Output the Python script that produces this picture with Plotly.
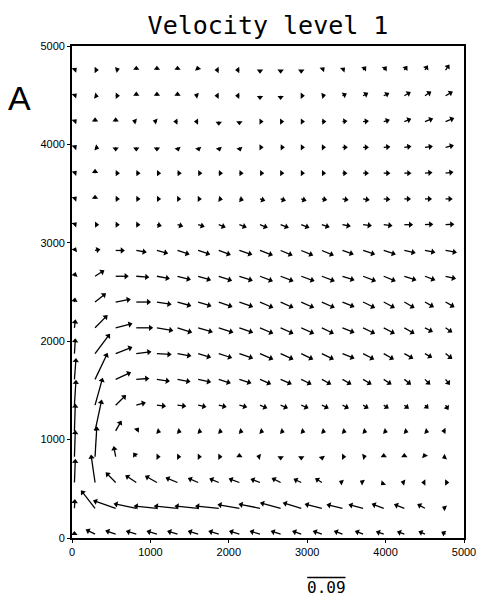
import math
import plotly.graph_objects as go

TITLE = "Velocity level 1"
PANEL_LABEL = "A"
REF_LABEL = "0.09"
REF_SPEED = 0.09          # m/s, reference arrow
REF_X = 3000              # start of reference arrow (x units)

X_TICKS = [0, 1000, 2000, 3000, 4000, 5000]
Y_TICKS = [0, 1000, 2000, 3000, 4000, 5000]

# grid point coordinates (arrow tails)
X_GRID = [31, 294, 557, 820, 1083, 1346, 1609, 1872, 2135, 2398,
          2661, 2924, 3187, 3450, 3713, 3976, 4239, 4502, 4765]
Y_GRID = [40, 302, 564, 826, 1088, 1350, 1612, 1874, 2136, 2398,
          2660, 2922, 3184, 3446, 3708, 3970, 4232, 4494, 4756]

# eastward velocity (cm/s), rows from bottom (first) to top (last)
U_CMS = [
    [0.0, -1.9, -2.1, -2.1, -2.1, -2.1, -2.1, -2.1, -2.1, -2.1, -2.0, -1.8, -1.8, -1.7, -1.6, -1.5, -1.4, -1.2, -0.7],
    [0.1, -3.1, -5.0, -5.0, -5.1, -5.2, -5.2, -5.2, -4.8, -4.7, -4.5, -4.0, -3.7, -3.4, -3.1, -2.5, -2.1, -1.5, -0.5],
    [0.2, -0.9, -2.1, -2.3, -2.5, -2.5, -2.1, -1.9, -2.2, -1.9, -1.8, -1.5, -1.3, -0.5, -0.2, -0.2, -0.5, -0.5, 0.5],
    [0.2, 0.4, -0.4, -0.5, 0.5, 0.5, 0.5, 0.5, 0.0, -0.5, 0.0, 0.0, 0.1, 0.5, 0.5, 0.0, 0.0, -0.2, -0.5],
    [0.2, 1.5, 1.2, 0.4, 0.35, 0.35, 0.35, 0.35, 0.35, 0.35, 0.35, 0.35, 0.35, 0.35, 0.35, 0.35, 0.35, 0.35, -0.35],
    [0.35, 1.7, 2.2, 1.9, 1.8, 1.7, 1.6, 1.5, 1.5, 1.4, 1.4, 1.4, 1.3, 1.2, 1.0, 0.9, 0.8, 0.6, 0.5],
    [0.35, 2.8, 3.3, 2.7, 2.7, 2.7, 2.7, 2.5, 2.5, 2.3, 2.3, 2.1, 1.9, 1.8, 1.7, 1.55, 1.3, 1.0, 0.8],
    [0.2, 3.3, 3.6, 3.2, 3.1, 2.9, 2.7, 2.8, 2.9, 2.8, 2.7, 2.5, 2.5, 2.5, 2.3, 2.1, 1.8, 1.4, 1.3],
    [0.2, 2.7, 3.6, 3.6, 3.5, 3.1, 3.1, 3.1, 2.9, 2.8, 2.7, 2.7, 2.5, 2.5, 2.5, 2.3, 2.1, 1.55, 1.3],
    [0.1, 2.3, 3.2, 3.1, 3.1, 2.9, 2.8, 2.9, 2.9, 2.8, 2.7, 2.7, 2.7, 2.5, 2.5, 2.3, 2.1, 1.8, 1.8],
    [0.1, 1.9, 2.7, 2.7, 2.7, 2.8, 2.7, 2.8, 2.8, 2.7, 2.7, 2.8, 2.7, 2.5, 2.7, 2.5, 2.5, 2.1, 2.1],
    [0.1, 0.9, 1.8, 2.1, 2.3, 2.5, 2.5, 2.5, 2.7, 2.7, 2.5, 2.5, 2.5, 2.3, 2.5, 2.5, 2.3, 2.1, 2.3],
    [0.1, 0.6, 0.6, 0.6, 0.8, 1.0, 1.2, 1.3, 1.4, 1.5, 1.6, 1.6, 1.5, 1.6, 1.7, 1.7, 1.7, 1.6, 1.7],
    [0.1, 0.0, 0.35, 0.35, 0.35, 0.5, 0.5, 0.6, 0.7, 0.9, 0.9, 0.9, 0.9, 1.1, 1.2, 1.2, 1.2, 1.3, 1.3],
    [0.1, 0.0, 0.35, 0.35, 0.35, 0.35, 0.35, 0.35, 0.35, 0.35, 0.5, 0.5, 0.35, 0.8, 1.0, 1.2, 1.3, 1.4, 1.5],
    [0.1, 0.35, 0.0, 0.0, 0.0, 0.1, 0.1, 0.1, 0.1, 0.2, 0.35, 0.5, 0.6, 0.9, 1.0, 1.2, 1.3, 1.5, 1.6],
    [0.1, 0.0, 0.0, -0.35, -0.35, -0.35, -0.35, 0.0, 0.0, 0.2, 0.2, 0.5, 0.7, 0.8, 1.0, 1.1, 1.3, 1.6, 1.7],
    [0.1, 0.5, 0.35, 0.0, 0.0, 0.0, -0.35, -0.35, -0.35, 0.0, 0.0, 0.2, 0.6, 0.7, 0.9, 1.0, 1.2, 1.2, 1.4],
    [0.1, 0.5, 0.35, 0.0, 0.0, 0.0, -0.1, -0.35, -0.35, 0.0, 0.0, 0.0, 0.2, 0.35, 0.5, 0.5, 0.5, 0.5, 0.7],
]

# northward velocity (cm/s), rows from bottom (first) to top (last)
V_CMS = [
    [0.1, 0.9, 0.7, 0.6, 0.6, 0.6, 0.6, 0.6, 0.6, 0.6, 0.6, 0.6, 0.6, 0.6, 0.6, 0.5, 0.5, 0.5, 0.35],
    [1.8, 3.9, 1.7, 1.0, 0.5, 0.5, 0.5, 0.5, 0.8, 0.9, 1.2, 1.2, 0.9, 0.8, 0.8, 0.9, 0.8, 0.8, 0.2],
    [5.1, 6.1, 2.1, 1.5, 1.4, 1.0, 0.9, 0.8, 0.8, 0.7, 0.9, 0.7, 0.8, 0.2, 0.1, -0.2, 0.1, 0.0, 0.0],
    [5.8, 6.7, 2.1, 0.7, 0.0, 0.0, 0.0, 0.0, 0.5, 0.1, -0.5, -0.5, -0.5, 0.0, 0.1, 0.5, 0.5, 0.5, -0.2],
    [6.0, 6.9, 2.1, 0.5, -0.1, -0.1, -0.1, -0.1, -0.1, -0.1, -0.1, -0.1, -0.1, -0.1, -0.1, -0.1, -0.1, -0.1, 0.0],
    [5.5, 6.0, 2.1, 0.5, -0.2, -0.2, -0.35, -0.35, -0.4, -0.6, -0.6, -0.6, -0.6, -0.6, -0.6, -0.6, -0.6, -0.6, -0.8],
    [4.6, 5.8, 1.5, 0.2, -0.4, -0.5, -0.6, -0.8, -0.8, -1.0, -1.0, -1.0, -1.0, -1.0, -1.0, -1.0, -1.0, -1.0, -1.0],
    [3.2, 4.3, 1.4, 0.4, -0.2, -0.5, -0.8, -0.9, -1.0, -1.2, -1.2, -1.2, -1.2, -1.0, -1.2, -1.2, -1.0, -0.8, -1.0],
    [1.6, 2.7, 0.9, 0.0, -0.6, -1.0, -0.9, -1.0, -1.0, -1.2, -1.2, -1.2, -1.2, -1.0, -1.2, -1.2, -1.2, -0.8, -0.9],
    [0.7, 1.8, 0.6, 0.0, -0.5, -0.8, -0.85, -1.0, -1.0, -1.2, -1.2, -1.2, -1.2, -1.0, -1.2, -1.2, -1.2, -1.0, -1.0],
    [0.35, 1.2, 0.0, -0.2, -0.5, -0.7, -0.8, -0.9, -0.9, -1.0, -1.0, -1.0, -1.0, -0.8, -1.0, -1.0, -0.8, -0.8, -0.5],
    [0.2, 0.2, 0.0, -0.35, -0.6, -0.8, -0.8, -0.9, -0.9, -1.0, -1.0, -1.0, -1.0, -0.8, -0.8, -0.8, -0.5, -0.4, -0.4],
    [0.1, 0.0, 0.0, 0.0, -0.2, -0.3, -0.35, -0.5, -0.5, -0.6, -0.6, -0.6, -0.5, -0.3, -0.2, -0.2, 0.0, 0.1, 0.1],
    [0.1, 0.35, 0.0, 0.0, 0.0, 0.0, 0.0, -0.1, -0.2, -0.3, -0.3, -0.3, -0.2, -0.2, -0.2, -0.1, 0.0, 0.0, 0.0],
    [0.1, 0.35, 0.0, 0.0, 0.0, 0.0, 0.0, 0.0, 0.0, 0.0, 0.0, 0.0, 0.0, 0.0, 0.0, 0.0, 0.0, 0.1, 0.2],
    [0.1, -0.1, -0.35, -0.35, -0.35, -0.35, -0.35, -0.35, -0.35, 0.0, 0.0, 0.0, 0.0, 0.0, 0.0, 0.1, 0.2, 0.2, 0.4],
    [0.1, 0.35, 0.35, 0.1, 0.1, 0.0, 0.0, -0.35, -0.5, 0.0, 0.0, 0.0, 0.0, 0.1, 0.1, 0.3, 0.5, 0.6, 0.7],
    [0.1, -0.1, 0.0, 0.35, 0.35, 0.35, 0.1, 0.0, 0.0, -0.35, -0.35, 0.0, 0.1, 0.35, 0.5, 0.5, 0.7, 0.8, 0.8],
    [0.1, 0.0, 0.1, 0.35, 0.35, 0.35, 0.35, 0.0, 0.0, -0.5, -0.5, -0.5, 0.2, 0.35, 0.6, 0.6, 0.7, 0.8, 1.0],
]

# ---------------------------------------------------------------- layout
W, H = 488, 601
ML, MR, MT, MB = 72, 17, 46, 63
PW, PH = W - ML - MR, H - MT - MB
XR, YR = 5000.0, 5000.0
PX_X = PW / XR            # pixels per x unit
PX_Y = PH / YR            # pixels per y unit
REF_PX = 39.0             # drawn length of the reference arrow
PX_PER_MS = REF_PX / REF_SPEED

lx, ly, hx, hy, ang = [], [], [], [], []
for k, y0 in enumerate(Y_GRID):
    for i, x0 in enumerate(X_GRID):
        u = U_CMS[k][i] / 100.0
        v = V_CMS[k][i] / 100.0
        dxp, dyp = u * PX_PER_MS, v * PX_PER_MS
        x1 = x0 + dxp / PX_X
        y1 = y0 + dyp / PX_Y
        lx += [x0, x1, None]
        ly += [y0, y1, None]
        L = math.hypot(dxp, dyp)
        if L > 2.0:
            back = 1.2 / L
            hx.append(x1 - dxp * back / PX_X)
            hy.append(y1 - dyp * back / PX_Y)
        else:
            hx.append(x1)
            hy.append(y1)
        ang.append(math.degrees(math.atan2(dxp, dyp)) if L > 0 else 0)

fig = go.Figure()
fig.add_trace(go.Scatter(x=lx, y=ly, mode="lines",
                         line=dict(color="black", width=1.3),
                         hoverinfo="skip", showlegend=False))
fig.add_trace(go.Scatter(x=hx, y=hy, mode="markers",
                         marker=dict(symbol="triangle-up", size=5.5, color="black",
                                     angle=ang, line=dict(width=0)),
                         hoverinfo="skip", showlegend=False))

# reference arrow below the plot
ref_end = REF_X + REF_SPEED * PX_PER_MS / PX_X
ref_y_paper = -(577.5 - (MT + PH)) / PH
fig.add_shape(type="line", xref="x", yref="paper",
              x0=REF_X, x1=ref_end, y0=ref_y_paper, y1=ref_y_paper,
              line=dict(color="black", width=1.3))
fig.add_trace(go.Scatter(x=[ref_end - 1.2 / PX_X], y=[ref_y_paper * YR], mode="markers",
                         marker=dict(symbol="triangle-up", size=5.5, color="black",
                                     angle=90, line=dict(width=0)),
                         cliponaxis=False, hoverinfo="skip", showlegend=False))
fig.add_annotation(x=(REF_X + ref_end) / 2, xref="x",
                   y=-(587 - (MT + PH)) / PH, yref="paper",
                   text=REF_LABEL, showarrow=False, xanchor="center", yanchor="middle",
                   font=dict(family="DejaVu Sans Mono", size=16, color="black"))

fig.add_annotation(x=(19 - ML) / PW, xref="paper", y=1 - (98 - MT) / PH, yref="paper",
                   text=PANEL_LABEL, showarrow=False, xanchor="center", yanchor="middle",
                   font=dict(family="Liberation Sans", size=34, color="black"))

axis_common = dict(showgrid=False, zeroline=False, showline=True, linecolor="black",
                   linewidth=1.8, mirror=True, ticks="outside", ticklen=3,
                   tickwidth=1.3, tickcolor="black",
                   tickfont=dict(family="Liberation Sans", size=11, color="black"))
fig.update_xaxes(range=[0, XR], tickvals=X_TICKS,
                 ticktext=[str(t) for t in X_TICKS], **axis_common)
fig.update_yaxes(range=[0, YR], tickvals=Y_TICKS,
                 ticktext=[str(t) for t in Y_TICKS], **axis_common)

fig.update_layout(
    width=W, height=H,
    margin=dict(l=ML, r=MR, t=MT, b=MB),
    paper_bgcolor="white", plot_bgcolor="white",
    title=dict(text=TITLE, x=0.5, xref="paper", xanchor="center",
               y=1 - 25 / H, yref="container", yanchor="middle",
               font=dict(family="DejaVu Sans Mono", size=25, color="black")),
)

fig.write_html("out.html", config={"displayModeBar": False},
               post_script="document.body.style.margin='0px';document.body.style.overflow='hidden';")
